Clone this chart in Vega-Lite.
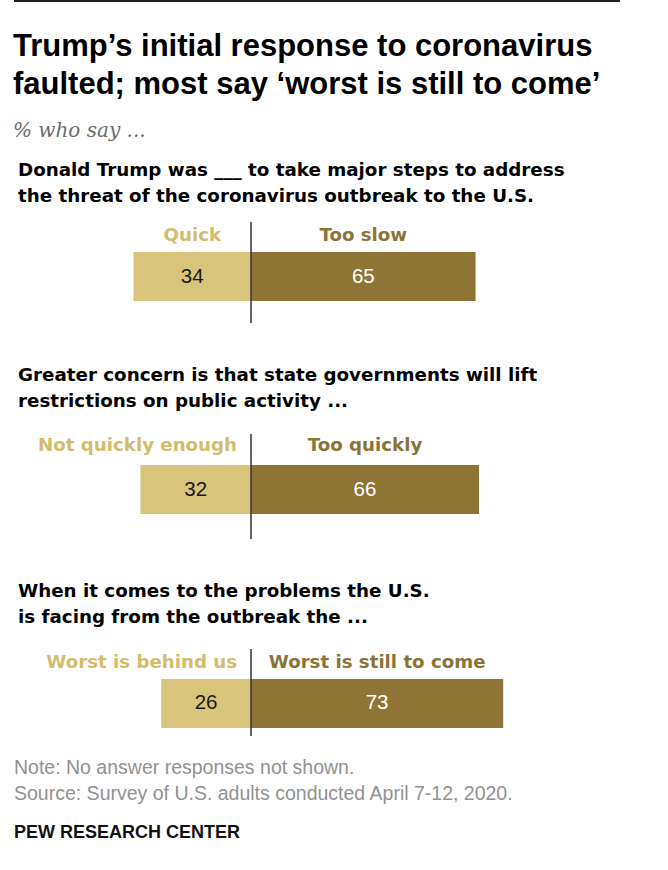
{
  "$schema": "https://vega.github.io/schema/vega-lite/v6.json",
  "padding": {"left": 13, "top": 0, "right": 0, "bottom": 0},
  "background": "white",
  "spacing": 20,
  "config": {
    "view": {"stroke": null},
    "font": "Liberation Sans",
    "title": {"anchor": "start", "frame": "group", "font": "DejaVu Sans", "fontSize": 18.3, "fontWeight": "bold", "lineHeight": 26, "color": "#000000", "dx": 4, "offset": 15}
  },
  "datasets": {
    "responses": [
      {"q": 1, "side": "left", "label": "Quick", "value": 34},
      {"q": 1, "side": "right", "label": "Too slow", "value": 65},
      {"q": 2, "side": "left", "label": "Not quickly enough", "value": 32},
      {"q": 2, "side": "right", "label": "Too quickly", "value": 66},
      {"q": 3, "side": "left", "label": "Worst is behind us", "value": 26},
      {"q": 3, "side": "right", "label": "Worst is still to come", "value": 73}
    ]
  },
  "vconcat": [
    {
      "width": 606,
      "height": 1,
      "title": {
        "text": ["Trump’s initial response to coronavirus", "faulted; most say ‘worst is still to come’"],
        "orient": "bottom",
        "font": "Liberation Sans",
        "fontSize": 31,
        "lineHeight": 38,
        "dx": -1,
        "offset": 30,
        "subtitle": "% who say ...",
        "subtitleFont": "DejaVu Serif",
        "subtitleFontStyle": "italic",
        "subtitleFontSize": 20,
        "subtitleColor": "#6d6d6d",
        "subtitlePadding": 20
      },
      "data": {"values": [{}]},
      "mark": {"type": "rule", "color": "#222222", "strokeWidth": 2},
      "encoding": {
        "x": {"datum": 0, "type": "quantitative", "scale": {"domain": [0, 1]}, "axis": null},
        "x2": {"datum": 1},
        "y": {"datum": 0, "type": "quantitative", "scale": {"domain": [0, 1]}, "axis": null}
      }
    },
    {
      "spacing": 42,
      "vconcat": [
        {
          "width": 606,
          "height": 101,
          "title": {"text": ["Donald Trump was ___ to take major steps to address", "the threat of the coronavirus outbreak to the U.S."], "offset": 15},
          "data": {"name": "responses"},
          "transform": [
            {"filter": "datum.q == 1"},
            {"calculate": "datum.side == 'left' ? -datum.value : datum.value", "as": "pos"},
            {"calculate": "datum.pos / 2", "as": "mid"}
          ],
          "layer": [
            {
              "mark": {"type": "bar"},
              "encoding": {
                "x": {"field": "pos", "type": "quantitative", "scale": {"domain": [-68.6, 106.8], "nice": false, "zero": false}, "axis": null},
                "x2": {"datum": 0},
                "y": {"datum": "bar", "type": "nominal", "axis": null, "scale": {"domain": ["bar"], "paddingInner": 0, "paddingOuter": 0.5306, "align": 0.577}},
                "color": {"condition": {"test": "datum.side == 'left'", "value": "#D9C47C"}, "value": "#8F7535"}
              }
            },
            {
              "mark": {"type": "text", "fontSize": 20.5, "baseline": "middle"},
              "encoding": {
                "x": {"field": "mid", "type": "quantitative"},
                "y": {"datum": "bar", "type": "nominal"},
                "text": {"field": "value"},
                "color": {"condition": {"test": "datum.side == 'left'", "value": "#1a1a1a"}, "value": "#FFFFFF"}
              }
            },
            {
              "transform": [{"filter": "datum.side == 'left' && length(datum.label) <= 8"}],
              "mark": {"type": "text", "font": "DejaVu Sans", "fontSize": 18.2, "fontWeight": "bold", "align": "center", "baseline": "alphabetic", "dy": -11, "color": "#D3BC6E"},
              "encoding": {
                "x": {"field": "mid", "type": "quantitative"},
                "y": {"datum": "bar", "type": "nominal", "bandPosition": 0},
                "text": {"field": "label"}
              }
            },
            {
              "transform": [{"filter": "datum.side == 'left' && length(datum.label) > 8"}],
              "mark": {"type": "text", "font": "DejaVu Sans", "fontSize": 18.2, "fontWeight": "bold", "align": "right", "baseline": "alphabetic", "dx": -14, "dy": -11, "color": "#D3BC6E"},
              "encoding": {
                "x": {"datum": 0, "type": "quantitative"},
                "y": {"datum": "bar", "type": "nominal", "bandPosition": 0},
                "text": {"field": "label"}
              }
            },
            {
              "transform": [{"filter": "datum.side == 'right'"}],
              "mark": {"type": "text", "font": "DejaVu Sans", "fontSize": 18.2, "fontWeight": "bold", "align": "center", "baseline": "alphabetic", "dy": -11, "color": "#8B7436"},
              "encoding": {
                "x": {"field": "mid", "type": "quantitative"},
                "y": {"datum": "bar", "type": "nominal", "bandPosition": 0},
                "text": {"field": "label"}
              }
            },
            {
              "mark": {"type": "rule", "color": "#333333", "strokeWidth": 1},
              "encoding": {"x": {"datum": 0, "type": "quantitative"}}
            }
          ]
        },
        {
          "width": 606,
          "height": 105,
          "title": {"text": ["Greater concern is that state governments will lift", "restrictions on public activity ..."], "offset": 22},
          "data": {"name": "responses"},
          "transform": [
            {"filter": "datum.q == 2"},
            {"calculate": "datum.side == 'left' ? -datum.value : datum.value", "as": "pos"},
            {"calculate": "datum.pos / 2", "as": "mid"}
          ],
          "layer": [
            {
              "mark": {"type": "bar"},
              "encoding": {
                "x": {"field": "pos", "type": "quantitative", "scale": {"domain": [-68.6, 106.8], "nice": false, "zero": false}, "axis": null},
                "x2": {"datum": 0},
                "y": {"datum": "bar", "type": "nominal", "axis": null, "scale": {"domain": ["bar"], "paddingInner": 0, "paddingOuter": 0.5714, "align": 0.554}},
                "color": {"condition": {"test": "datum.side == 'left'", "value": "#D9C47C"}, "value": "#8F7535"}
              }
            },
            {
              "mark": {"type": "text", "fontSize": 20.5, "baseline": "middle"},
              "encoding": {
                "x": {"field": "mid", "type": "quantitative"},
                "y": {"datum": "bar", "type": "nominal"},
                "text": {"field": "value"},
                "color": {"condition": {"test": "datum.side == 'left'", "value": "#1a1a1a"}, "value": "#FFFFFF"}
              }
            },
            {
              "transform": [{"filter": "datum.side == 'left' && length(datum.label) <= 8"}],
              "mark": {"type": "text", "font": "DejaVu Sans", "fontSize": 18.2, "fontWeight": "bold", "align": "center", "baseline": "alphabetic", "dy": -14, "color": "#D3BC6E"},
              "encoding": {
                "x": {"field": "mid", "type": "quantitative"},
                "y": {"datum": "bar", "type": "nominal", "bandPosition": 0},
                "text": {"field": "label"}
              }
            },
            {
              "transform": [{"filter": "datum.side == 'left' && length(datum.label) > 8"}],
              "mark": {"type": "text", "font": "DejaVu Sans", "fontSize": 18.2, "fontWeight": "bold", "align": "right", "baseline": "alphabetic", "dx": -14, "dy": -14, "color": "#D3BC6E"},
              "encoding": {
                "x": {"datum": 0, "type": "quantitative"},
                "y": {"datum": "bar", "type": "nominal", "bandPosition": 0},
                "text": {"field": "label"}
              }
            },
            {
              "transform": [{"filter": "datum.side == 'right'"}],
              "mark": {"type": "text", "font": "DejaVu Sans", "fontSize": 18.2, "fontWeight": "bold", "align": "center", "baseline": "alphabetic", "dy": -14, "color": "#8B7436"},
              "encoding": {
                "x": {"field": "mid", "type": "quantitative"},
                "y": {"datum": "bar", "type": "nominal", "bandPosition": 0},
                "text": {"field": "label"}
              }
            },
            {
              "mark": {"type": "rule", "color": "#333333", "strokeWidth": 1},
              "encoding": {"x": {"datum": 0, "type": "quantitative"}}
            }
          ]
        },
        {
          "width": 606,
          "height": 87,
          "title": {"text": ["When it comes to the problems the U.S.", "is facing from the outbreak the ..."], "offset": 21},
          "data": {"name": "responses"},
          "transform": [
            {"filter": "datum.q == 3"},
            {"calculate": "datum.side == 'left' ? -datum.value : datum.value", "as": "pos"},
            {"calculate": "datum.pos / 2", "as": "mid"}
          ],
          "layer": [
            {
              "mark": {"type": "bar"},
              "encoding": {
                "x": {"field": "pos", "type": "quantitative", "scale": {"domain": [-68.6, 106.8], "nice": false, "zero": false}, "axis": null},
                "x2": {"datum": 0},
                "y": {"datum": "bar", "type": "nominal", "axis": null, "scale": {"domain": ["bar"], "paddingInner": 0, "paddingOuter": 0.3878, "align": 0.789}},
                "color": {"condition": {"test": "datum.side == 'left'", "value": "#D9C47C"}, "value": "#8F7535"}
              }
            },
            {
              "mark": {"type": "text", "fontSize": 20.5, "baseline": "middle"},
              "encoding": {
                "x": {"field": "mid", "type": "quantitative"},
                "y": {"datum": "bar", "type": "nominal"},
                "text": {"field": "value"},
                "color": {"condition": {"test": "datum.side == 'left'", "value": "#1a1a1a"}, "value": "#FFFFFF"}
              }
            },
            {
              "transform": [{"filter": "datum.side == 'left' && length(datum.label) <= 8"}],
              "mark": {"type": "text", "font": "DejaVu Sans", "fontSize": 18.2, "fontWeight": "bold", "align": "center", "baseline": "alphabetic", "dy": -11, "color": "#D3BC6E"},
              "encoding": {
                "x": {"field": "mid", "type": "quantitative"},
                "y": {"datum": "bar", "type": "nominal", "bandPosition": 0},
                "text": {"field": "label"}
              }
            },
            {
              "transform": [{"filter": "datum.side == 'left' && length(datum.label) > 8"}],
              "mark": {"type": "text", "font": "DejaVu Sans", "fontSize": 18.2, "fontWeight": "bold", "align": "right", "baseline": "alphabetic", "dx": -14, "dy": -11, "color": "#D3BC6E"},
              "encoding": {
                "x": {"datum": 0, "type": "quantitative"},
                "y": {"datum": "bar", "type": "nominal", "bandPosition": 0},
                "text": {"field": "label"}
              }
            },
            {
              "transform": [{"filter": "datum.side == 'right'"}],
              "mark": {"type": "text", "font": "DejaVu Sans", "fontSize": 18.2, "fontWeight": "bold", "align": "center", "baseline": "alphabetic", "dy": -11, "color": "#8B7436"},
              "encoding": {
                "x": {"field": "mid", "type": "quantitative"},
                "y": {"datum": "bar", "type": "nominal", "bandPosition": 0},
                "text": {"field": "label"}
              }
            },
            {
              "mark": {"type": "rule", "color": "#333333", "strokeWidth": 1},
              "encoding": {"x": {"datum": 0, "type": "quantitative"}}
            }
          ]
        }
      ]
    },
    {
      "width": 606,
      "height": 20,
      "title": {
        "text": ["Note: No answer responses not shown.", "Source: Survey of U.S. adults conducted April 7-12, 2020."],
        "font": "Liberation Sans",
        "fontSize": 19.5,
        "fontWeight": "normal",
        "color": "#929292",
        "lineHeight": 26,
        "dx": 0,
        "offset": 19
      },
      "data": {"values": [{"org": "PEW RESEARCH CENTER"}]},
      "mark": {"type": "text", "align": "left", "baseline": "middle", "fontSize": 18, "fontWeight": "bold", "color": "#111111"},
      "encoding": {
        "x": {"datum": 0, "type": "quantitative", "scale": {"domain": [0, 1]}, "axis": null},
        "text": {"field": "org"}
      }
    }
  ]
}
